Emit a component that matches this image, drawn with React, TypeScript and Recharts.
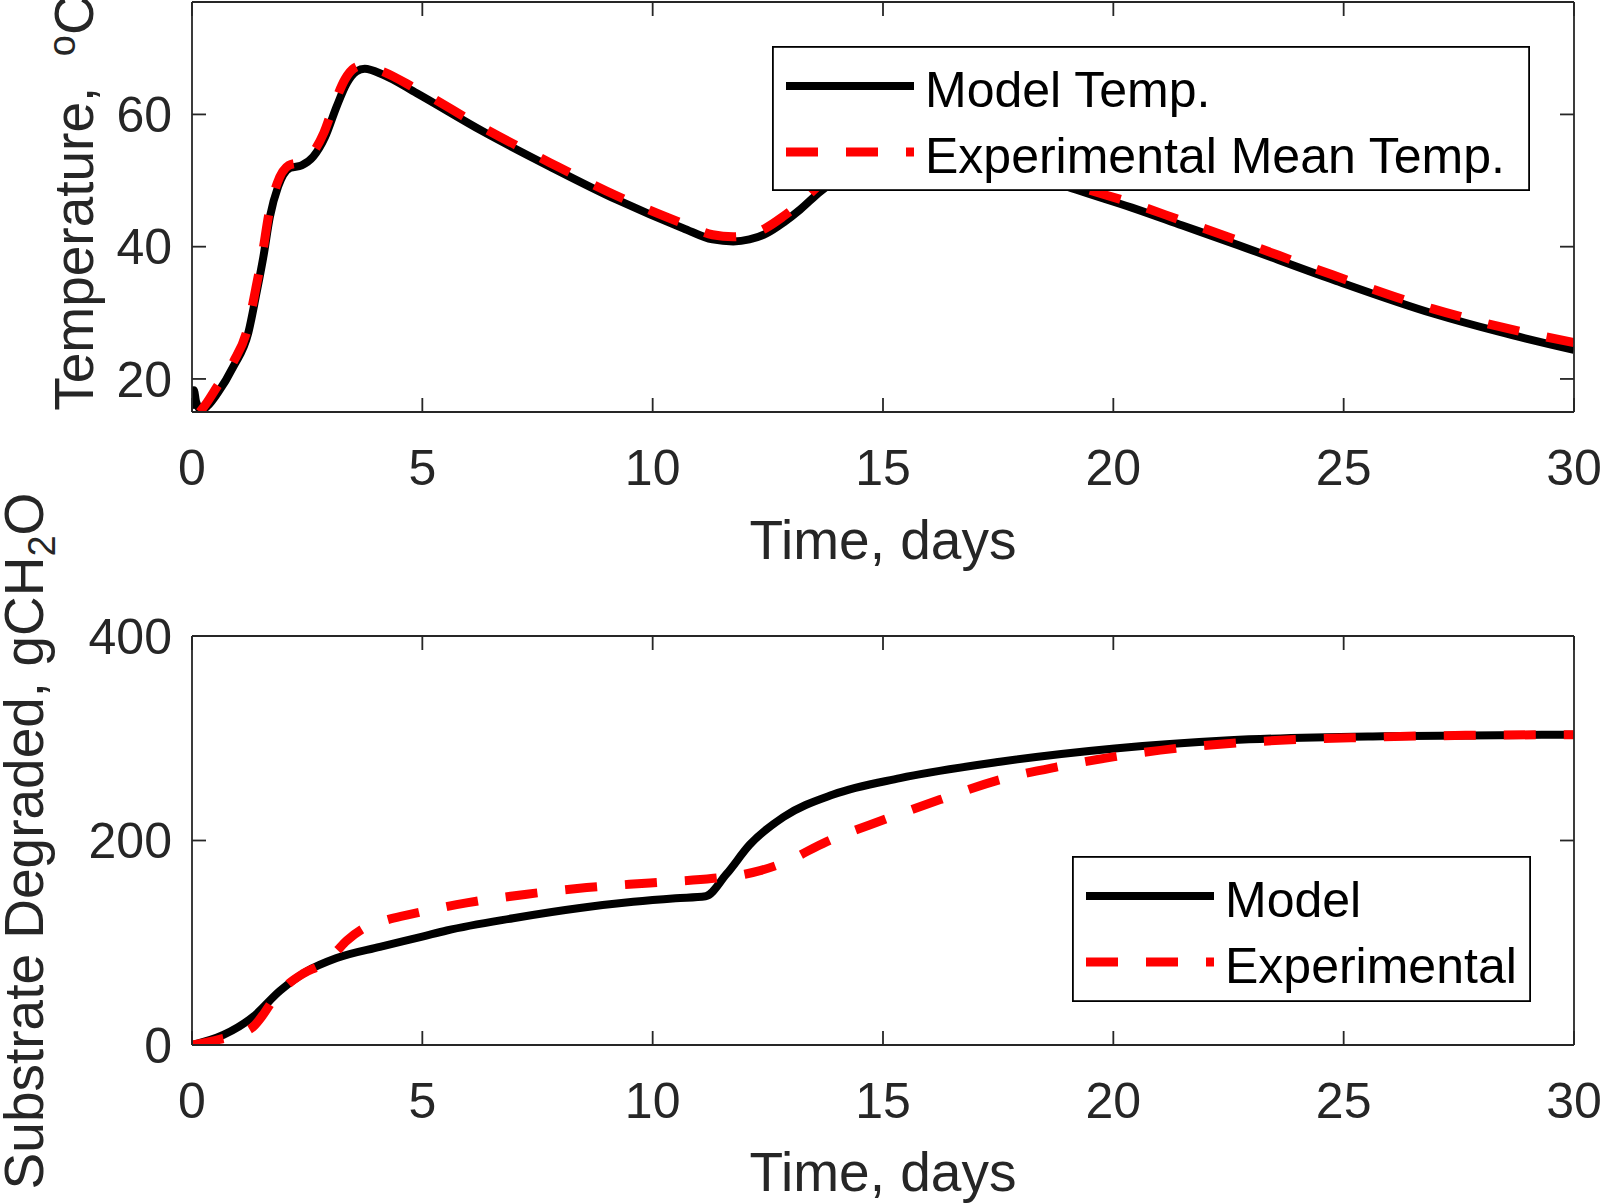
import React from 'react';
import { LineChart, Line, XAxis, YAxis, Legend } from 'recharts';

// Top panel: temperature (°C) against time (days)
const tempModelDays = [0, 0.04, 0.09, 0.2, 0.35, 0.55, 0.9, 1.22, 1.4, 1.55, 1.69, 1.87, 2.13, 2.38, 2.63, 2.89, 3.14, 3.36, 3.57, 3.75, 4.15, 4.88, 6.32, 7.77, 9.22, 10.66, 11.3, 11.75, 12.1, 12.47, 12.85, 13.2, 13.63, 14.5, 15.2, 16.0, 17.0, 18.0, 19.2, 20.4, 21.5, 22.6, 24.77, 26.94, 28.39, 30];
const tempModelVals = [15.5, 18.3, 16.5, 15.3, 16.0, 17.8, 21.9, 26.9, 33.0, 38.5, 44.5, 49.1, 51.9, 52.3, 53.6, 56.6, 61.2, 64.7, 66.5, 66.9, 66.0, 63.2, 57.4, 52.1, 47.1, 42.8, 41.1, 40.8, 41.1, 42.0, 43.7, 45.6, 48.3, 52.3, 54.3, 55.0, 54.0, 51.6, 48.6, 45.9, 43.2, 40.5, 35.0, 29.9, 27.1, 24.4];

const tempExpDays = [0.17, 0.3, 0.55, 0.9, 1.2, 1.38, 1.53, 1.67, 1.85, 2.1, 2.35, 2.6, 2.86, 3.1, 3.32, 3.52, 3.7, 4.1, 4.88, 6.32, 7.77, 9.22, 10.66, 11.3, 11.75, 12.1, 12.45, 12.82, 13.17, 13.6, 14.5, 15.2, 16.0, 17.0, 18.0, 19.2, 20.4, 21.5, 22.6, 24.77, 26.94, 28.39, 30];
const tempExpVals = [15.0, 16.2, 18.9, 22.6, 27.5, 33.5, 39.0, 45.0, 49.6, 52.3, 52.8, 54.0, 57.2, 61.8, 65.3, 67.0, 67.4, 66.6, 63.8, 58.0, 52.7, 47.7, 43.5, 41.8, 41.5, 41.8, 42.8, 44.5, 46.4, 49.2, 53.0, 55.0, 55.7, 54.7, 52.3, 49.2, 46.6, 43.9, 41.2, 35.7, 30.6, 27.9, 25.5];

// Bottom panel: substrate degraded (gCH2O)
const subModelDays = [0, 0.68, 1.33, 1.91, 2.49, 3.14, 4.08, 5.0, 5.53, 6.97, 8.42, 9.58, 10.5, 11.15, 11.6, 12.11, 12.84, 13.92, 15.37, 17.54, 20.03, 22.52, 25.85, 30];
const subModelVals = [0, 9.8, 27.7, 53, 72, 85, 96, 106, 112, 124, 134, 140, 143.5, 145.5, 167, 196, 223, 245, 261, 277, 290, 298, 302, 303.5];

const subExpDays = [0, 0.6, 1.1, 1.33, 1.55, 1.76, 2.1, 2.42, 2.85, 3.1, 3.36, 3.72, 4.2, 4.66, 5.96, 7.27, 8.57, 9.94, 11.32, 12.0, 12.33, 12.83, 13.78, 15.0, 16.24, 17.54, 18.78, 20.03, 21.44, 22.69, 24.02, 25.43, 26.68, 28.0, 30];
const subExpVals = [0, 5.5, 12, 18, 30, 44, 60, 70, 80, 90, 102, 114, 122, 127, 139, 147.5, 154, 158.5, 163, 167, 170.5, 178, 199, 220, 240, 259.5, 272, 282, 290.5, 295.5, 298.8, 300.8, 302.2, 303, 303.5];

const dayTicks = [0, 5, 10, 15, 20, 25, 30];
const tempTicks = [20, 40, 60];
const subTicks = [0, 200, 400];
const tempNames = ['Model Temp.', 'Experimental Mean Temp.'];
const subNames = ['Model', 'Experimental'];

const FONT = '"Liberation Sans", Arial, Helvetica, sans-serif';
const INK = '#262626';
const TICK_FONT = 50;
const TITLE_FONT = 55;

const pairs = (days: number[], vals: number[]) => days.map((t, i) => ({ t, v: vals[i] }));

const modelLine = { stroke: '#000000', strokeWidth: 8 };
const expLine = { stroke: '#ff0000', strokeWidth: 9, strokeDasharray: '32 28' };

function LegendBox({ names, width, height }: { names: string[]; width: number; height: number }) {
  const styles = [modelLine, expLine];
  return (
    <svg width={width} height={height} style={{ display: 'block' }}>
      <rect x={0.9} y={0.9} width={width - 1.8} height={height - 1.8} fill="#fff" stroke="#000" strokeWidth={1.8} />
      {names.map((name, i) => {
        const s: any = styles[i];
        const ly = 40 + i * 66;
        return (
          <g key={name}>
            <line x1={14} x2={142} y1={ly} y2={ly} stroke={s.stroke} strokeWidth={s.strokeWidth} strokeDasharray={s.strokeDasharray} />
            <text x={153} y={ly + 21} fontSize={TICK_FONT} fontFamily={FONT} fill="#000">
              {name}
            </text>
          </g>
        );
      })}
    </svg>
  );
}

const axisStroke = { stroke: INK, strokeWidth: 1.8 };
const tickText = { fontSize: TICK_FONT, fill: INK, fontFamily: FONT };
const blank = () => '';

interface PanelProps {
  height: number;
  plotTop: number;
  plotBottom: number;
  domain: [number, number];
  yTicks: number[];
  model: { t: number; v: number }[];
  exp: { t: number; v: number }[];
  names: string[];
  legend: { left: number; top: number; width: number; height: number };
  yTitle: () => React.ReactElement;
  xTitleY: number;
}

function Panel(p: PanelProps) {
  const xTitle = () => (
    <text x={883} y={p.xTitleY} textAnchor="middle" fontSize={TITLE_FONT} fontFamily={FONT} fill={INK}>
      Time, days
    </text>
  );
  return (
    <LineChart
      width={1600}
      height={p.height}
      margin={{ top: p.plotTop - 2, right: 0, bottom: 0, left: 0 }}
      style={{ fontFamily: FONT }}
    >
      <XAxis
        xAxisId="b"
        type="number"
        dataKey="t"
        domain={[0, 30]}
        ticks={dayTicks}
        interval={0}
        allowDataOverflow
        height={p.height - p.plotBottom}
        tickSize={-14}
        tickMargin={51}
        axisLine={axisStroke}
        tickLine={axisStroke}
        tick={tickText}
        label={xTitle}
      />
      <XAxis
        xAxisId="t"
        orientation="top"
        type="number"
        dataKey="t"
        domain={[0, 30]}
        ticks={dayTicks}
        interval={0}
        allowDataOverflow
        height={2}
        tickSize={-14}
        tickFormatter={blank}
        axisLine={axisStroke}
        tickLine={axisStroke}
      />
      <YAxis
        yAxisId="l"
        type="number"
        domain={p.domain}
        ticks={p.yTicks}
        interval={0}
        allowDataOverflow
        width={192}
        tickSize={-14}
        tickMargin={34}
        axisLine={axisStroke}
        tickLine={axisStroke}
        tick={tickText}
        label={p.yTitle}
      />
      <YAxis
        yAxisId="r"
        orientation="right"
        type="number"
        domain={p.domain}
        ticks={p.yTicks}
        interval={0}
        allowDataOverflow
        width={26}
        tickSize={-14}
        tickFormatter={blank}
        axisLine={axisStroke}
        tickLine={axisStroke}
      />
      <Line
        xAxisId="b"
        yAxisId="l"
        data={p.model}
        dataKey="v"
        name={p.names[0]}
        type="monotone"
        dot={false}
        activeDot={false}
        strokeLinejoin="round"
        isAnimationActive={false}
        {...modelLine}
      />
      <Line
        xAxisId="b"
        yAxisId="l"
        data={p.exp}
        dataKey="v"
        name={p.names[1]}
        type="monotone"
        dot={false}
        activeDot={false}
        isAnimationActive={false}
        {...expLine}
      />
      <Legend
        layout="horizontal"
        verticalAlign="middle"
        align="center"
        width={p.legend.width}
        height={p.legend.height}
        wrapperStyle={{ left: p.legend.left, top: p.legend.top, width: p.legend.width, height: p.legend.height }}
        content={() => <LegendBox names={p.names} width={p.legend.width} height={p.legend.height} />}
      />
    </LineChart>
  );
}

const tempTitle = () => (
  <text
    x={93}
    y={203}
    transform="rotate(-90 93 203)"
    textAnchor="middle"
    fontSize={TITLE_FONT}
    fontFamily={FONT}
    fill={INK}
    style={{ whiteSpace: 'pre' }}
  >
    {'Temperature,  '}
    <tspan dy={-18} fontSize={38}>o</tspan>
    <tspan dy={18}>C</tspan>
  </text>
);

const subTitle = () => (
  <text
    x={43}
    y={371}
    transform="rotate(-90 43 371)"
    textAnchor="middle"
    fontSize={TITLE_FONT}
    fontFamily={FONT}
    fill={INK}
  >
    {'Substrate Degraded, gCH'}
    <tspan dy={12} fontSize={38}>2</tspan>
    <tspan dy={-12}>O</tspan>
  </text>
);

export default function App() {
  // absolute so the page never grows past the window (no scrollbar)
  return (
    <div style={{ position: 'absolute', left: 0, top: 0, width: 1600, height: 1204, background: '#fff', overflow: 'hidden' }}>
      <div style={{ position: 'absolute', left: 0, top: 0 }}>
        <Panel
          height={600}
          plotTop={2}
          plotBottom={412}
          domain={[15, 77]}
          yTicks={tempTicks}
          model={pairs(tempModelDays, tempModelVals)}
          exp={pairs(tempExpDays, tempExpVals)}
          names={tempNames}
          legend={{ left: 772, top: 46, width: 758, height: 145 }}
          yTitle={tempTitle}
          xTitleY={559}
        />
      </div>
      <div style={{ position: 'absolute', left: 0, top: 470 }}>
        <Panel
          height={734}
          plotTop={166}
          plotBottom={575}
          domain={[0, 400]}
          yTicks={subTicks}
          model={pairs(subModelDays, subModelVals)}
          exp={pairs(subExpDays, subExpVals)}
          names={subNames}
          legend={{ left: 1072, top: 386, width: 459, height: 146 }}
          yTitle={subTitle}
          xTitleY={721}
        />
      </div>
    </div>
  );
}
